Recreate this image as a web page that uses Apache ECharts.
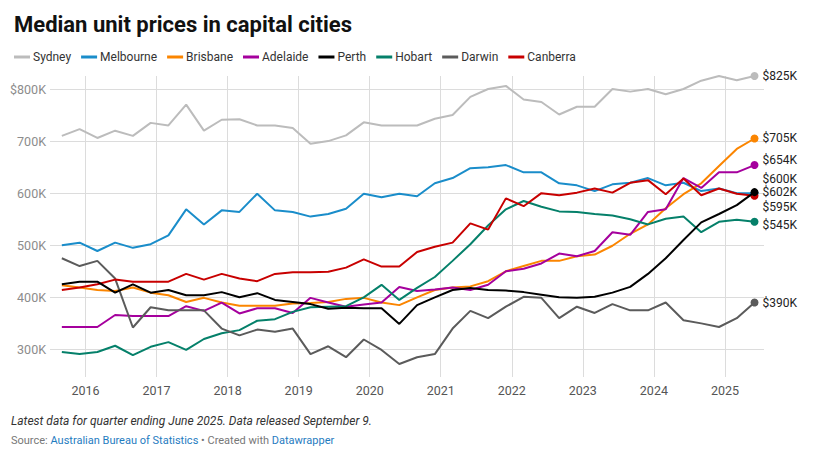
<!DOCTYPE html>
<html>
<head>
<meta charset="utf-8">
<title>Median unit prices in capital cities</title>
<script src="https://cdn.jsdelivr.net/npm/echarts@6/dist/echarts.min.js"></script>
<style>
  html, body { margin: 0; padding: 0; background: #fff; }
  #chart { width: 824px; height: 454px; }
</style>
</head>
<body>
<div id="chart"></div>
<script>
// quarterly medians, $K, Sep 2015 .. Jun 2025
var quarters = [
  '2015-09', '2015-12', '2016-03', '2016-06', '2016-09', '2016-12', '2017-03', '2017-06',
  '2017-09', '2017-12', '2018-03', '2018-06', '2018-09', '2018-12', '2019-03', '2019-06',
  '2019-09', '2019-12', '2020-03', '2020-06', '2020-09', '2020-12', '2021-03', '2021-06',
  '2021-09', '2021-12', '2022-03', '2022-06', '2022-09', '2022-12', '2023-03', '2023-06',
  '2023-09', '2023-12', '2024-03', '2024-06', '2024-09', '2024-12', '2025-03', '2025-06'
];
var sydney = [710, 723, 706, 720, 710, 735, 730, 770, 720, 741, 742, 730, 730, 725, 695, 700, 711, 736, 730, 730,
  730, 743, 750, 785, 800, 806, 780, 775, 751, 766, 766, 800, 795, 800, 790, 800, 816, 825, 817, 825];
var melbourne = [500, 505, 489, 505, 495, 502, 519, 569, 540, 567, 564, 599, 567, 564, 555, 560, 570, 599, 592, 599,
  594, 619, 629, 648, 650, 654, 640, 640, 619, 615, 604, 617, 620, 629, 615, 620, 604, 609, 600, 600];
var brisbane = [423, 419, 414, 412, 419, 409, 404, 391, 399, 390, 384, 384, 384, 388, 389, 391, 397, 399, 390, 385,
  400, 414, 419, 421, 431, 450, 460, 470, 470, 479, 482, 499, 522, 540, 571, 598, 619, 652, 685, 705];
var adelaide = [343, 343, 343, 366, 364, 364, 364, 383, 374, 390, 369, 379, 379, 370, 399, 390, 382, 386, 390, 420,
  412, 415, 419, 414, 424, 450, 455, 465, 484, 479, 489, 525, 520, 564, 569, 629, 610, 640, 640, 654];
var perth = [425, 430, 430, 409, 425, 409, 414, 404, 404, 410, 400, 408, 395, 391, 387, 378, 380, 379, 379, 349,
  385, 400, 414, 418, 414, 413, 410, 405, 400, 399, 401, 409, 420, 445, 475, 510, 544, 560, 577, 602];
var hobart = [295, 291, 295, 307, 289, 305, 314, 299, 320, 331, 337, 355, 358, 372, 381, 382, 383, 400, 424, 395,
  418, 439, 470, 502, 538, 569, 585, 574, 565, 564, 560, 557, 550, 540, 551, 555, 525, 545, 549, 545];
var darwin = [475, 460, 470, 436, 342, 381, 375, 375, 375, 340, 327, 338, 334, 340, 291, 306, 285, 319, 299, 272,
  285, 291, 340, 374, 360, 382, 401, 399, 360, 382, 370, 387, 375, 375, 390, 356, 350, 343, 360, 390];
var canberra = [414, 419, 425, 434, 430, 430, 430, 445, 434, 445, 436, 431, 445, 448, 448, 449, 457, 473, 459, 459,
  487, 497, 505, 542, 530, 590, 575, 600, 596, 601, 609, 601, 620, 625, 598, 628, 596, 609, 599, 595];

var yearTicks = [2016, 2017, 2018, 2019, 2020, 2021, 2022, 2023, 2024, 2025];
var priceTicks = [300, 400, 500, 600, 700, 800];

var cities = [
  { name: 'Sydney', values: sydney, color: '#bcbcbc', nudge: 0 },
  { name: 'Melbourne', values: melbourne, color: '#1a8dca', nudge: -14 },
  { name: 'Brisbane', values: brisbane, color: '#fb8500', nudge: 0 },
  { name: 'Adelaide', values: adelaide, color: '#a5009d', nudge: -5 },
  { name: 'Perth', values: perth, color: '#000000', nudge: 0, z: 5 },
  { name: 'Hobart', values: hobart, color: '#05806a', nudge: 3 },
  { name: 'Darwin', values: darwin, color: '#5b5b5b', nudge: 0 },
  { name: 'Canberra', values: canberra, color: '#c80000', nudge: 11 }
];

// '2015-09' -> decimal year
function toYear(q) {
  var p = q.split('-');
  return +p[0] + (+p[1] - 1) / 12;
}

var FONT = 'Roboto, "Noto Sans", sans-serif';
var last = quarters.length - 1;

var series = cities.map(function (c) {
  return {
    name: c.name,
    type: 'line',
    z: c.z || 2,
    data: c.values.map(function (v, i) { return [toYear(quarters[i]), v]; }),
    symbol: 'circle',
    symbolSize: function (val, params) { return params.dataIndex === last ? 8 : 0; },
    showSymbol: true,
    clip: false,
    lineStyle: { color: c.color, width: 2 },
    itemStyle: { color: c.color },
    emphasis: { disabled: true },
    endLabel: {
      show: true,
      distance: 8,
      offset: [0, c.nudge],
      formatter: function (p) { return '$' + p.value[1] + 'K'; },
      color: '#222',
      fontSize: 12,
      fontFamily: FONT
    }
  };
});

var myChart = echarts.init(document.getElementById('chart'), null, { renderer: 'svg' });
myChart.setOption({
  animation: false,
  backgroundColor: '#fff',
  title: {
    text: 'Median unit prices in capital cities',
    left: 9,
    top: 8,
    textStyle: { fontSize: 22, fontWeight: 700, color: '#111', fontFamily: FONT }
  },
  legend: {
    left: 9,
    top: 46,
    icon: 'rect',
    itemWidth: 16,
    itemHeight: 3,
    itemGap: 10,
    textStyle: { fontSize: 12, color: '#333', fontFamily: FONT, padding: [0, 0, 0, -2] },
    data: cities.map(function (c) { return c.name; })
  },
  grid: { left: 50, right: 60, top: 76, bottom: 77 },
  xAxis: {
    type: 'value',
    min: 2015.5,
    max: 2025.55,
    axisLine: { show: false },
    axisTick: { show: false, customValues: yearTicks },
    axisLabel: {
      customValues: yearTicks,
      margin: 7,
      color: '#555',
      fontSize: 12.5,
      fontFamily: FONT,
      formatter: function (v) { return String(v); }
    },
    splitLine: { show: true, lineStyle: { color: '#dcdcdc', width: 1 } }
  },
  yAxis: {
    type: 'value',
    min: 247,
    max: 825,
    axisLine: { show: false },
    axisTick: { show: false, customValues: priceTicks },
    axisLabel: {
      customValues: priceTicks,
      margin: 4,
      color: '#8c8c8c',
      fontSize: 12.5,
      fontFamily: FONT,
      formatter: function (v) { return v === 800 ? '$800K' : v + 'K'; }
    },
    splitLine: { show: true, lineStyle: { color: '#dcdcdc', width: 1 } }
  },
  graphic: [
    {
      type: 'text',
      left: 11,
      top: 415,
      style: {
        text: 'Latest data for quarter ending June 2025. Data released September 9.',
        fill: '#333',
        fontSize: 12,
        fontStyle: 'italic',
        fontFamily: FONT
      }
    },
    {
      type: 'text',
      left: 11,
      top: 435,
      style: {
        text: '{g|Source: }{b|Australian Bureau of Statistics}{g| • Created with }{b|Datawrapper}',
        fontSize: 11,
        fontFamily: FONT,
        rich: {
          g: { fill: '#777', fontSize: 11, fontFamily: FONT },
          b: { fill: '#1f7cbf', fontSize: 11, fontFamily: FONT }
        }
      }
    }
  ],
  series: series
});
</script>
</body>
</html>
